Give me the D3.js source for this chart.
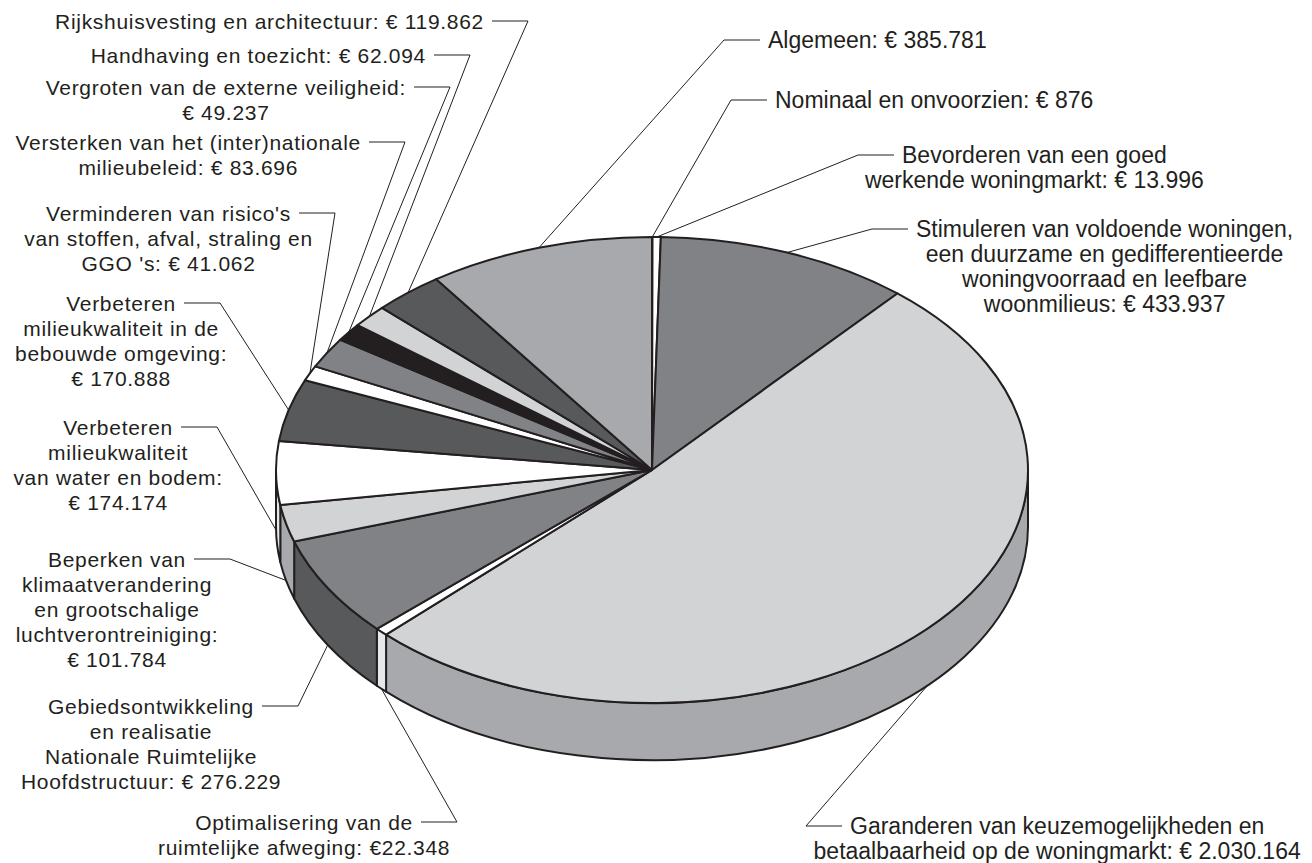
<!DOCTYPE html>
<html lang="nl">
<head>
<meta charset="UTF-8">
<title>Begroting per beleidsartikel</title>
<script src="https://d3js.org/d3.v7.min.js"></script>
<style>
  body { margin: 0; background: #fff; }
  .lbl-l { font-family: "Liberation Sans", Arial, sans-serif; font-size: 21px; letter-spacing: 0.7px; fill: #231f20; }
  .lbl-r { font-family: "Liberation Sans Narrow", "Arial Narrow", "Liberation Sans", sans-serif; font-size: 23px; fill: #231f20; }
  .leader { fill: none; stroke: #231f20; stroke-width: 1; }
  .slice { stroke: #231f20; stroke-width: 2; stroke-linejoin: round; }
</style>
</head>
<body>
<svg id="chart" width="1312" height="863"></svg>
<script>
// slices clockwise from 12 o'clock
var names = ["Nominaal en onvoorzien", "Bevorderen woningmarkt", "Stimuleren woningen",
  "Garanderen keuzemogelijkheden", "Optimalisering afweging", "Gebiedsontwikkeling",
  "Beperken klimaatverandering", "Water en bodem", "Bebouwde omgeving",
  "Verminderen risico's", "Versterken milieubeleid", "Externe veiligheid",
  "Handhaving en toezicht", "Rijkshuisvesting", "Algemeen"];
var values = [876, 13996, 433937, 2030164, 22348, 276229, 101784, 174174, 170888,
  41062, 83696, 49237, 62094, 119862, 385781];

var labelLines = [
  ["Nominaal en onvoorzien: € 876"],
  ["Bevorderen van een goed", "werkende woningmarkt: € 13.996"],
  ["Stimuleren van voldoende woningen,", "een duurzame en gedifferentieerde", "woningvoorraad en leefbare", "woonmilieus: € 433.937"],
  ["Garanderen van keuzemogelijkheden en", "betaalbaarheid op de woningmarkt: € 2.030.164"],
  ["Optimalisering van de", "ruimtelijke afweging: €22.348"],
  ["Gebiedsontwikkeling", "en realisatie", "Nationale Ruimtelijke", "Hoofdstructuur: € 276.229"],
  ["Beperken van", "klimaatverandering", "en grootschalige", "luchtverontreiniging:", "€ 101.784"],
  ["Verbeteren", "milieukwaliteit", "van water en bodem:", "€ 174.174"],
  ["Verbeteren", "milieukwaliteit in de", "bebouwde omgeving:", "€ 170.888"],
  ["Verminderen van risico's", "van stoffen, afval, straling en", "GGO 's: € 41.062"],
  ["Versterken van het (inter)nationale", "milieubeleid: € 83.696"],
  ["Vergroten van de externe veiligheid:", "€ 49.237"],
  ["Handhaving en toezicht: € 62.094"],
  ["Rijkshuisvesting en architectuur: € 119.862"],
  ["Algemeen: € 385.781"]
];

var topColors = ["#ffffff", "#ffffff", "#808285", "#d1d3d4", "#ffffff", "#808285", "#d1d3d4",
  "#ffffff", "#58595b", "#ffffff", "#808285", "#231f20", "#d1d3d4", "#58595b", "#a7a9ac"];
var sideColors = ["#e6e7e8", "#e6e7e8", "#58595b", "#a7a9ac", "#e6e7e8", "#58595b", "#a7a9ac",
  "#e6e7e8", "#3a3a3c", "#e6e7e8", "#58595b", "#111111", "#a7a9ac", "#3a3a3c", "#808285"];

// label layout: side of the chart and the elbow where the leader turns
var labelSide = ["R", "R", "R", "R", "L", "L", "L", "L", "L", "L", "L", "L", "L", "L", "R"];
var labelElbow = [[731, 100], [858, 155], [872, 229], [806, 826], [457, 822], [298, 706],
  [230, 559], [217, 427], [220, 303], [335, 213], [405, 142], [450, 87], [470, 55],
  [528, 21], [724, 40]];

var cx = 652, cy = 470, rx = 376, ry = 233, depth = 57;
var tick = 36, gap = 8, lineH = 25;

var svg = d3.select("#chart");

var pie = d3.pie().sort(null).value(d => d).startAngle(0).endAngle(2 * Math.PI);
var arcs = pie(values);

function pt(a, dy) {
  return [cx + rx * Math.sin(a), cy - ry * Math.cos(a) + (dy || 0)];
}

function topPath(d) {
  var p0 = pt(d.startAngle), p1 = pt(d.endAngle);
  var large = (d.endAngle - d.startAngle) > Math.PI ? 1 : 0;
  return "M" + cx + "," + cy + "L" + p0 + "A" + rx + "," + ry + " 0 " + large + " 1 " + p1 + "Z";
}

function sidePath(d) {
  var s = Math.max(d.startAngle, Math.PI / 2), e = Math.min(d.endAngle, 3 * Math.PI / 2);
  if (e <= s) return null;
  var t0 = pt(s), t1 = pt(e), b0 = pt(s, depth), b1 = pt(e, depth);
  return "M" + t0 + "A" + rx + "," + ry + " 0 0 1 " + t1 + "L" + b1 +
    "A" + rx + "," + ry + " 0 0 0 " + b0 + "Z";
}

var sides = arcs.filter(d => sidePath(d) !== null);

svg.append("g").selectAll("path")
  .data(sides)
  .enter()
  .append("path")
  .attr("class", "slice")
  .attr("d", sidePath)
  .attr("fill", d => sideColors[d.index]);

svg.append("g").selectAll("path")
  .data(arcs)
  .enter()
  .append("path")
  .attr("class", "slice")
  .attr("d", topPath)
  .attr("fill", d => topColors[d.index]);

// labels and leader lines
var labels = svg.append("g");
arcs.forEach(function(d) {
  var i = d.index;
  var mid = (d.startAngle + d.endAngle) / 2;
  var front = mid > Math.PI / 2 && mid < 3 * Math.PI / 2;
  var anchor = pt(mid, front ? depth : 0);
  var elbow = labelElbow[i];
  var left = labelSide[i] === "L";
  var cls = (left || i === 4) ? "lbl-l" : "lbl-r";

  var txt = labels.append("text")
    .attr("class", cls)
    .attr("text-anchor", "middle");
  labelLines[i].forEach(function(line, k) {
    txt.append("tspan").attr("x", 0).attr("y", k * lineH).text(line);
  });
  var w1 = txt.select("tspan").node().getComputedTextLength();
  var fs = parseFloat(getComputedStyle(txt.node()).fontSize);
  var tx, hx;
  if (left) {
    hx = elbow[0] - tick;
    tx = hx - gap - w1 / 2;
  } else {
    hx = elbow[0] + tick;
    tx = hx + gap + w1 / 2;
  }
  txt.attr("transform", "translate(" + tx + "," + (elbow[1] + fs * 0.36) + ")");

  labels.append("path")
    .attr("class", "leader")
    .attr("d", "M" + hx + "," + elbow[1] + "L" + elbow + "L" + anchor);
});
</script>
</body>
</html>
